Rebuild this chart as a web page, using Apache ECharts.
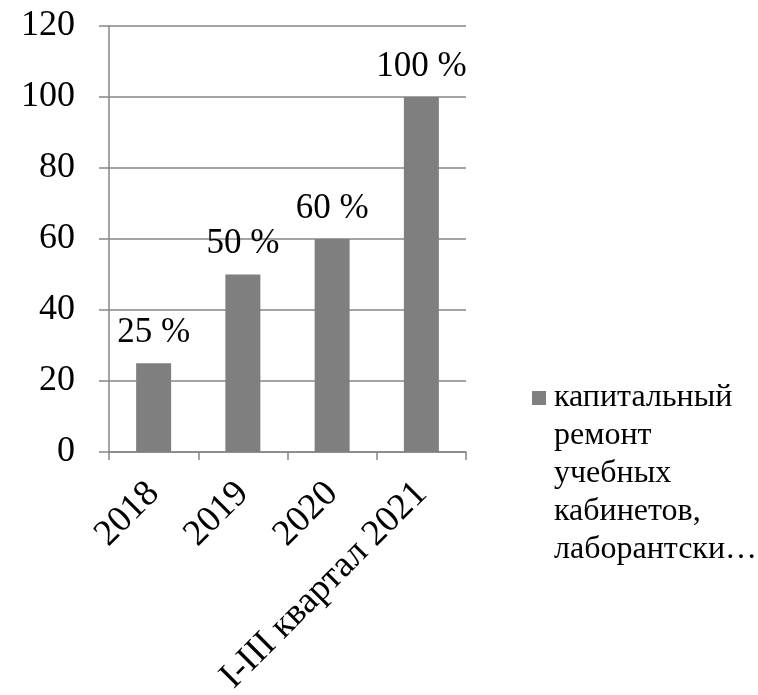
<!DOCTYPE html>
<html><head><meta charset="utf-8">
<script src="https://cdn.jsdelivr.net/npm/echarts@6/dist/echarts.min.js"></script>
<style>html,body{margin:0;padding:0;background:#fff}#c{width:758px;height:695px}</style>
</head><body><div id="c"></div>
<script>
const categories = ['2018', '2019', '2020', 'I-III квартал 2021'];
const values = [25, 50, 60, 100];
const barLabels = ['25 %', '50 %', '60 %', '100 %'];
const seriesName = 'капитальный ремонт учебных кабинетов, лаборантских';
const legendLines = ['капитальный', 'ремонт', 'учебных', 'кабинетов,', 'лаборантски…'];

const FONT = "'Liberation Serif', 'Times New Roman', serif";
const GRAY = '#868686';
const BAR = '#7f7f7f';

const chart = echarts.init(document.getElementById('c'), null, {renderer: 'canvas'});
chart.setOption({
  animation: false,
  textStyle: {fontFamily: FONT},
  grid: {left: 109, right: 292, top: 26, bottom: 243, containLabel: false, outerBoundsMode: 'none'},
  legend: {
    show: true,
    left: 522,
    top: 377,
    padding: 5,
    icon: 'none',
    itemWidth: 0,
    itemGap: 0,
    data: [seriesName],
    formatter: function () {
      return legendLines.map(function (l, i) {
        return (i === 0 ? '{box|}' : '{blank|}') + '{gap|}{t|' + l + '}';
      }).join('\n');
    },
    textStyle: {
      fontFamily: FONT,
      rich: {
        box: {width: 14, height: 14, backgroundColor: BAR},
        blank: {width: 14, height: 14},
        gap: {width: 8},
        t: {fontFamily: FONT, fontSize: 32, color: '#000', lineHeight: 38}
      }
    }
  },
  xAxis: {
    type: 'category',
    data: categories,
    axisLine: {show: true, lineStyle: {color: GRAY, width: 1.5}},
    axisTick: {show: true, length: 8, lineStyle: {color: GRAY, width: 1.5}},
    axisLabel: {rotate: 45, fontSize: 37, color: '#000', fontFamily: FONT, margin: 36, interval: 0}
  },
  yAxis: {
    type: 'value',
    min: 0, max: 120, interval: 20,
    axisLine: {show: true, lineStyle: {color: GRAY, width: 1.5}},
    axisTick: {show: true, length: 10, lineStyle: {color: GRAY, width: 1.5}},
    splitLine: {show: true, lineStyle: {color: GRAY, width: 1.5}},
    axisLabel: {fontSize: 36, color: '#000', fontFamily: FONT, margin: 34}
  },
  series: [{
    name: seriesName,
    type: 'bar',
    data: values,
    barWidth: 35,
    itemStyle: {color: BAR},
    label: {
      show: true,
      position: 'top',
      distance: 13,
      fontSize: 35,
      color: '#000',
      fontFamily: FONT,
      formatter: function (p) { return barLabels[p.dataIndex]; }
    }
  }]
});
</script>
</body></html>
